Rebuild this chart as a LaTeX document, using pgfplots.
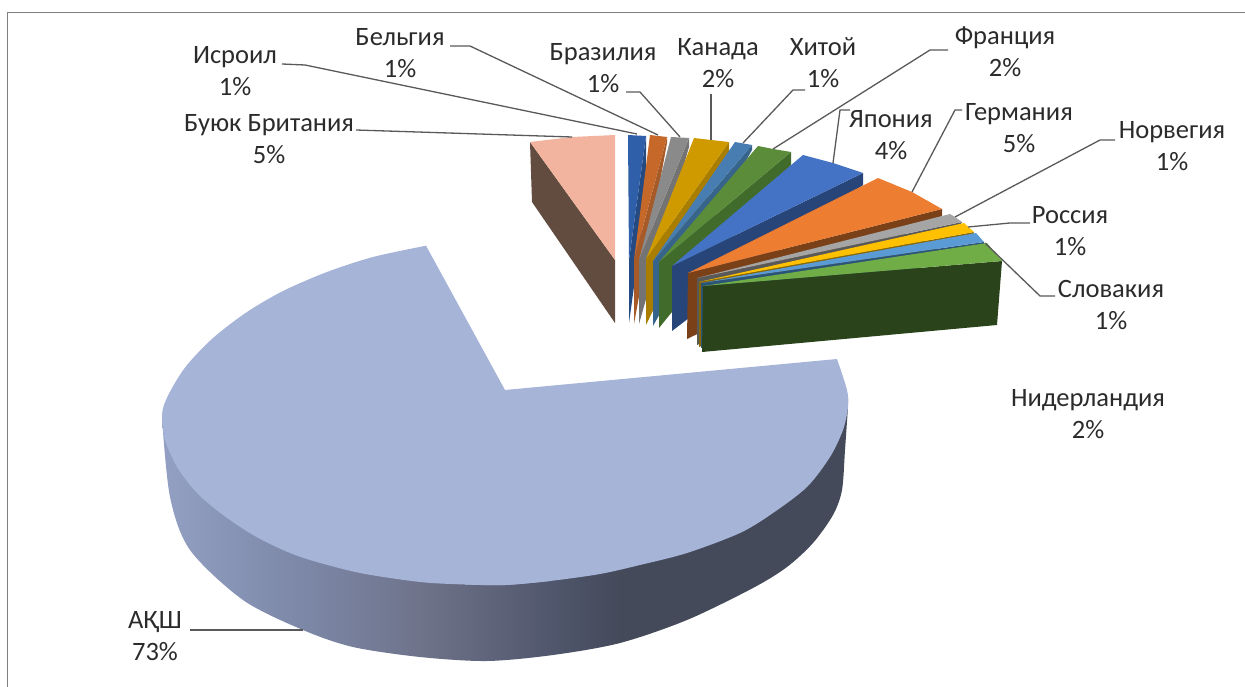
\documentclass[border=0pt]{standalone}
\usepackage{pgfplots}
\pgfplotsset{compat=1.18}
\usepackage{fontspec}
\setmainfont{Carlito}
\definecolor{lblc}{HTML}{2B2B2B}
\definecolor{leader}{HTML}{595959}
\definecolor{w1}{HTML}{93A0C3}
\definecolor{w2}{HTML}{7D88A8}
\definecolor{w3}{HTML}{6E738A}
\definecolor{w4}{HTML}{50566B}
\definecolor{w5}{HTML}{444A5A}
\pgfdeclarehorizontalshading{usawall}{100bp}{
  color(0bp)=(w1);
  color(25bp)=(w1);
  color(35bp)=(w2);
  color(44bp)=(w3);
  color(53.5bp)=(w4);
  color(58.5bp)=(w5);
  color(75bp)=(w5);
  color(100bp)=(w5)}
\definecolor{usatop}{HTML}{A6B4D8}
\definecolor{uktop}{HTML}{F2B49E}  \definecolor{ukside}{HTML}{624C3F}
\definecolor{iltop}{HTML}{2F5FA8}  \definecolor{ilside}{HTML}{254A82}
\definecolor{betop}{HTML}{C5682A}  \definecolor{beside}{HTML}{A65A28}
\definecolor{brtop}{HTML}{8A8A8A}  \definecolor{brside}{HTML}{737373}
\definecolor{catop}{HTML}{CF9A00}  \definecolor{caside}{HTML}{A87D00}
\definecolor{cntop}{HTML}{477DB0}  \definecolor{cnside}{HTML}{37648A}
\definecolor{frtop}{HTML}{5B8C3A}  \definecolor{frside}{HTML}{416B2A}
\definecolor{jptop}{HTML}{4472C4}  \definecolor{jpside}{HTML}{274579}
\definecolor{detop}{HTML}{ED7D31}  \definecolor{deside}{HTML}{7A4119}
\definecolor{notop}{HTML}{A5A5A5}  \definecolor{noside}{HTML}{595959}
\definecolor{rutop}{HTML}{FFC000}  \definecolor{ruside}{HTML}{876500}
\definecolor{sktop}{HTML}{5B9BD5}  \definecolor{skside}{HTML}{2B5478}
\definecolor{nltop}{HTML}{70AD47}  \definecolor{nlside}{HTML}{2A431B}
\tikzset{
    lbl/.style={align=center, text=lblc, font=\fontsize{26.5}{32}\selectfont, inner sep=0pt},
}
\begin{document}
\begin{tikzpicture}
\useasboundingbox (0,0) rectangle (1245pt,687pt);
\begin{axis}[
    width=1245pt, height=687pt, scale only axis,
    xmin=0, xmax=1245, ymin=0, ymax=687,
    y dir=reverse,
    axis lines=none,
    ldr/.style={draw=leader, line width=1.3pt},
]
% frame
\addplot[draw=gray, line width=1.5pt] coordinates {(7.5,687) (7.5,12.5) (1245,12.5)};

% USA
\addplot[draw=none, shading=usawall, smooth] coordinates {
    (162,418) (170,497) (190,550) (243,600) (303,630) (353,647)
    (420,657) (487,661) (553,655) (620,643) (687,620) (753,588) (787,567) (813,543) (833,515)
    (842,490) (845,450) (848,407)};
% top face in three overlapping pieces, so that no seam shows
\addplot[draw=none, fill=usatop, smooth] coordinates {
    (426,245.7) (373,257) (327,272) (283,291) (247,312) (213,338) (187,365) (172,388)
    (164,405) (162,418) (165,440) (177,467) (197,493) (223,515) (253,535) (283,550) (310,560)
    (360,573) (420,582) (465,584.5) (505,585) (550,581)};
\addplot[draw=none, fill=usatop, smooth] coordinates {
    (465,584.5) (505,585) (550,581) (600,574) (640,565) (687,553) (740,533)
    (773,513) (807,487) (830,457) (843,430) (848,407) (847,390) (837,359)};
\addplot[draw=none, fill=usatop] coordinates {(426,245.7) (505,390) (837,359) (505,572)};

% UK
\addplot[draw=none, fill=ukside] coordinates {(530,142) (615,260) (615,323) (532,202)};
\addplot[draw=none, fill=uktop] coordinates {(530,142) (572,137) (615,135) (615,260)};

% Israel
\addplot[draw=none, fill=ilside] coordinates {(646,136) (646,200) (629,323) (629,260)};
\addplot[draw=none, fill=iltop] coordinates {(628,135) (646,136) (629,260)};
% Belgium
\addplot[draw=none, fill=beside] coordinates {(667,137) (667,143) (634,324) (634,260)};
\addplot[draw=none, fill=betop] coordinates {(650,135) (667,137) (634,260)};
% Brazil
\addplot[draw=none, fill=brside] coordinates {(689,138) (689,147) (639,324) (639,260)};
\addplot[draw=none, fill=brtop] coordinates {(671,137) (689,138) (639,260)};
% Canada
\addplot[draw=none, fill=caside] coordinates {(729,142) (729,153) (646,325) (646,259)};
\addplot[draw=none, fill=catop] coordinates {(694,138) (711,140) (729,142) (646,259)};
% China
\addplot[draw=none, fill=cnside] coordinates {(752,145) (752,150) (653,326) (653,261)};
\addplot[draw=none, fill=cntop] coordinates {(735,142) (752,145) (653,261)};
% France
\addplot[draw=none, fill=frside] coordinates {(791,152) (791,165) (659,328) (659,262)};
\addplot[draw=none, fill=frtop] coordinates {(758,146) (773,149) (791,152) (659,262)};
% Japan
\addplot[draw=none, fill=jpside] coordinates {(863,173) (863,185) (672,331) (672,266)};
\addplot[draw=none, fill=jptop] coordinates {(803,155) (833,163) (863,173) (672,266)};
% Germany
\addplot[draw=none, fill=deside] coordinates {(942,209) (942,216) (687,339) (688,273)};
\addplot[draw=none, fill=detop] coordinates {(878,178) (912,192) (942,209) (688,273)};
% Norway
\addplot[draw=none, fill=noside] coordinates {(962,222) (960,225) (697,345) (697,278)};
\addplot[draw=none, fill=notop] coordinates {(950,214) (955,217) (962,222) (697,278)};
% Russia
\addplot[draw=none, fill=ruside] coordinates {(974,232) (973,234) (699,347) (699,282)};
\addplot[draw=none, fill=rutop] coordinates {(964,223) (974,232) (699,282)};
% Slovakia
\addplot[draw=none, fill=skside] coordinates {(984,242) (984,244) (701,348) (701,283)};
\addplot[draw=none, fill=sktop] coordinates {(976,233) (984,242) (701,283)};
% Netherlands
\addplot[draw=none, fill=nlside] coordinates {(1002,261) (997,325) (702,352) (703,286)};
\addplot[draw=none, fill=nltop] coordinates {(987,243) (1002,261) (703,286)};

% leader lines
\addplot[ldr] coordinates {(356,130) (572,137)};
\addplot[ldr] coordinates {(282,64) (305,65) (637,134)};
\addplot[ldr] coordinates {(450,46) (470,46) (658,135)};
\addplot[ldr] coordinates {(626,92) (640,92) (680,137)};
\addplot[ldr] coordinates {(711,94) (711,140)};
\addplot[ldr] coordinates {(805,90) (793,90) (743,143)};
\addplot[ldr] coordinates {(948,50) (930,50) (773,149)};
\addplot[ldr] coordinates {(850,110) (840,110) (833,163)};
\addplot[ldr] coordinates {(962,110) (955,110) (912,192)};
\addplot[ldr] coordinates {(1115,140) (1100,140) (955,217)};
\addplot[ldr] coordinates {(1030,223) (1010,223) (968,227)};
\addplot[ldr] coordinates {(1055,296) (1040,296) (985,243)};
\addplot[ldr] coordinates {(190,630) (303,630)};

% labels
\node[lbl] at (axis cs:235,71) {Исроил\\1\%};
\node[lbl] at (axis cs:400,53) {Бельгия\\1\%};
\node[lbl] at (axis cs:603,68) {Бразилия\\1\%};
\node[lbl] at (axis cs:718,63) {Канада\\2\%};
\node[lbl] at (axis cs:823,63) {Хитой\\1\%};
\node[lbl] at (axis cs:1005,52) {Франция\\2\%};
\node[lbl] at (axis cs:891,135) {Япония\\4\%};
\node[lbl] at (axis cs:1019,128) {Германия\\5\%};
\node[lbl] at (axis cs:1172,146) {Норвегия\\1\%};
\node[lbl] at (axis cs:1070,231) {Россия\\1\%};
\node[lbl] at (axis cs:1111,305) {Словакия\\1\%};
\node[lbl] at (axis cs:1088,414) {Нидерландия\\2\%};
\node[lbl] at (axis cs:269,139) {Буюк Британия\\5\%};
\node[lbl] at (axis cs:155,636) {АҚШ\\73\%};
\end{axis}
\end{tikzpicture}
\end{document}
